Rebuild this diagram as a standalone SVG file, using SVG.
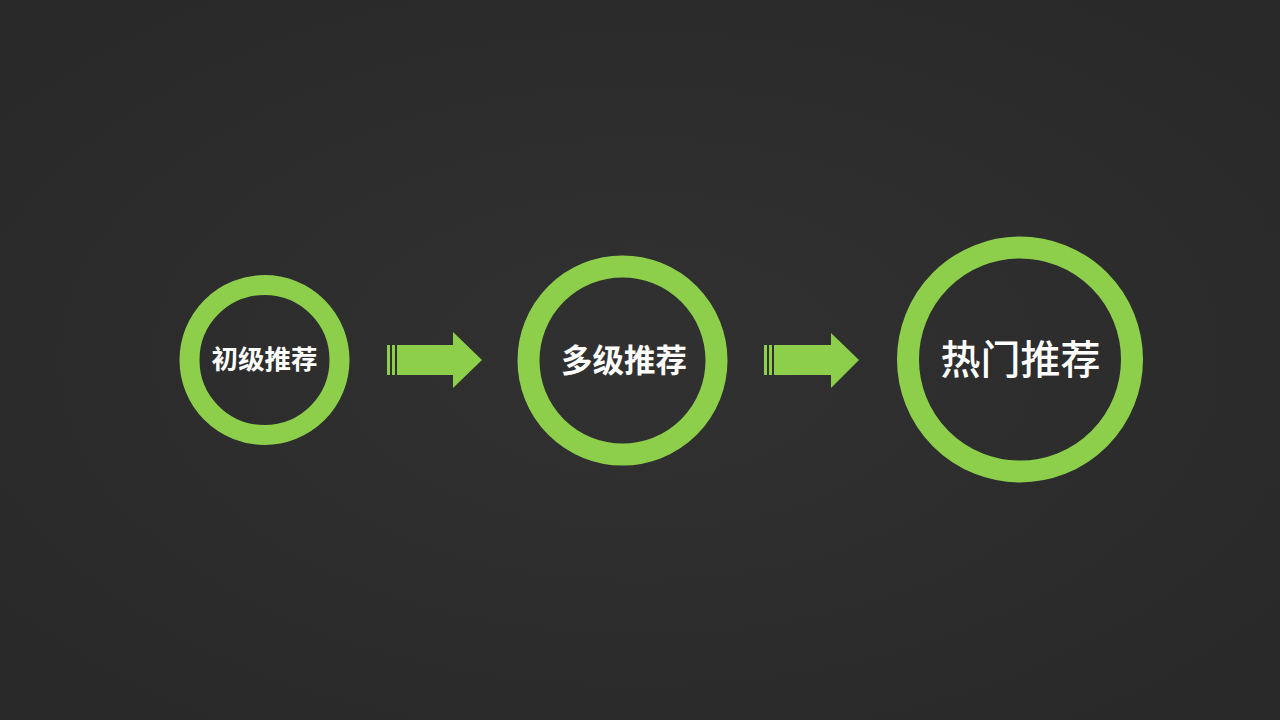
<svg xmlns="http://www.w3.org/2000/svg" width="1280" height="720" viewBox="0 0 1280 720">
<style>
.ring{fill:none;stroke:#8dcf4b;}
.arrow{fill:#8dcf4b;}
.label{fill:#ffffff;font-family:"Noto Sans CJK SC","Noto Sans",sans-serif;font-weight:700;text-anchor:middle;}
</style>
<defs>
<radialGradient id="bg" cx="50%" cy="50%" r="75%">
<stop offset="0" stop-color="#313131"/>
<stop offset="1" stop-color="#282828"/>
</radialGradient>
</defs>
<rect x="0" y="0" width="1280" height="720" fill="url(#bg)"/>
<g id="connectors">
<g id="arrow1">
<rect class="arrow" x="387" y="345" width="3" height="30"/>
<rect class="arrow" x="392" y="345" width="3" height="30"/>
<polygon class="arrow" points="397,345 453,345 453,332 482,360 453,388 453,375 397,375"/>
</g>
<g id="arrow2">
<rect class="arrow" x="764" y="345" width="3" height="30"/>
<rect class="arrow" x="769" y="345" width="3" height="30"/>
<polygon class="arrow" points="774,345 831,345 831,333 859,360 831,388 831,375 774,375"/>
</g>
</g>
<g id="node1">
<circle class="ring" cx="264.5" cy="360" r="75" stroke-width="20"/>
<text class="label" x="264.5" y="369" font-size="26.5">初级推荐</text>
</g>
<g id="node2">
<circle class="ring" cx="622.5" cy="360.5" r="94" stroke-width="22"/>
<text class="label" x="624" y="371.5" font-size="31.5">多级推荐</text>
</g>
<g id="node3">
<circle class="ring" cx="1020" cy="359.5" r="112" stroke-width="22"/>
<text class="label" x="1020.5" y="374" font-size="40" style="font-weight:500">热门推荐</text>
</g>
</svg>
